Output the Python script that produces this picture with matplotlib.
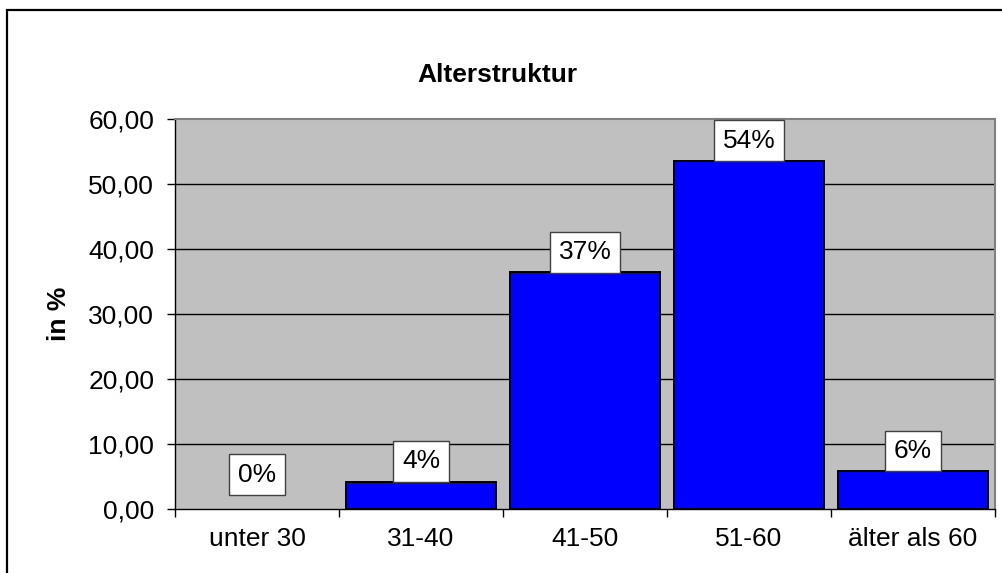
import numpy as np
import matplotlib.pyplot as plt
from matplotlib.patches import Rectangle

plt.rcParams['font.family'] = ['Liberation Sans', 'DejaVu Sans']

# data
categories = ["unter 30", "31-40", "41-50", "51-60", "älter als 60"]
values = [0.0, 4.2, 36.4, 53.5, 5.8]
labels = ["0%", "4%", "37%", "54%", "6%"]
yticks = [0, 10, 20, 30, 40, 50, 60]

W, H = 1003, 573
fs = 19
fig = plt.figure(figsize=(W / 100, H / 100), dpi=100)

# outer chart frame (clipped at right and bottom like the original)
fig.add_artist(Rectangle((7 / W, -0.2), 1.2, 1 - 10 / H + 0.2,
                         transform=fig.transFigure, fill=False,
                         edgecolor="black", linewidth=1.6, clip_on=False))

ax = fig.add_axes([175 / W, 64 / H, 820 / W, 390 / H])
ax.set_facecolor("#C0C0C0")

x = np.arange(len(categories))
ax.bar(x, values, width=0.916, color="#0000FF", edgecolor="black",
       linewidth=[1.4 if v > 0 else 0 for v in values], zorder=3)

ax.set_xlim(-0.5, len(categories) - 0.5)
ax.set_ylim(0, 60)
ax.set_yticks(yticks)
ax.set_yticklabels([f"{v:.2f}".replace(".", ",") for v in yticks])
for v in yticks[1:-1]:
    ax.axhline(v, color="black", linewidth=1.0, zorder=1)

ax.set_xticks(x)
ax.set_xticklabels(categories)
ax.set_xticks(np.arange(len(categories) + 1) - 0.5, minor=True)
ax.tick_params(axis="x", which="major", length=0, pad=13, labelsize=fs)
ax.tick_params(axis="x", which="minor", length=6, width=1.0, direction="out")
ax.tick_params(axis="y", length=6, width=1.0, pad=9, labelsize=fs)

for side in ["top", "right"]:
    ax.spines[side].set_color("#808080")
    ax.spines[side].set_linewidth(1.5)
for side in ["left", "bottom"]:
    ax.spines[side].set_color("black")
    ax.spines[side].set_linewidth(1.0)

# value labels in white boxes
for xi, v, lab in zip(x, values, labels):
    off = 16 if v == 0 else 6
    ax.annotate(lab, (xi, v), xytext=(0, off), textcoords="offset points",
                ha="center", va="bottom", fontsize=fs, zorder=5,
                bbox=dict(boxstyle="square,pad=0.32", facecolor="white",
                          edgecolor="#404040", linewidth=1.0))

ax.set_ylabel("in %", fontsize=fs, fontweight="bold", labelpad=12)
fig.text(497 / W, 1 - 75 / H, "Alterstruktur", ha="center", va="center",
         fontsize=fs, fontweight="bold")

fig.savefig("out.png", dpi=100)
